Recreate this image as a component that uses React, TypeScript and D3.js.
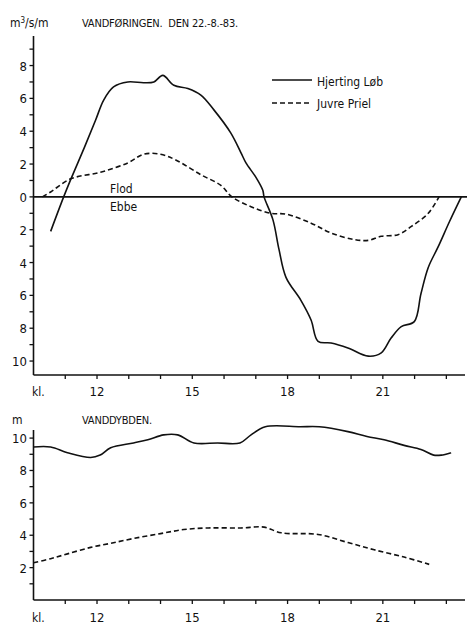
import React from "react";
import * as d3 from "d3";

// ---- Data ----
// Top chart: discharge (m3/s/m), hours (kl.)
const hjertingFlowHours = [10.54, 10.95, 11.17, 11.6, 11.96, 12.21, 12.52, 12.97, 13.47, 13.79, 14.07, 14.42, 14.86, 15.27, 15.68, 16.21, 16.53, 16.69, 17.0, 17.22, 17.26, 17.54, 17.73, 17.95, 18.42, 18.74, 18.96, 19.37, 19.9, 20.54, 20.95, 21.26, 21.58, 21.99, 22.2, 22.43, 22.74, 23.1, 23.47];
const hjertingFlowValues = [-2.1, 0, 1.05, 3.0, 4.7, 5.9, 6.7, 7.0, 6.95, 7.0, 7.4, 6.8, 6.6, 6.2, 5.3, 3.9, 2.7, 2.07, 1.2, 0.4, 0, -1.4, -3.2, -4.9, -6.3, -7.5, -8.8, -8.9, -9.2, -9.7, -9.5, -8.6, -7.9, -7.6, -5.9, -4.3, -3.05, -1.5, 0];
const juvreFlowHours = [10.28, 10.54, 11.17, 12.11, 12.97, 13.47, 14.0, 14.48, 15.27, 15.9, 16.25, 16.85, 17.48, 17.95, 18.74, 19.37, 20.1, 20.54, 20.95, 21.48, 21.9, 22.43, 22.77];
const juvreFlowValues = [0, 0.3, 1.1, 1.5, 2.07, 2.6, 2.6, 2.25, 1.35, 0.7, 0, -0.6, -1.0, -1.05, -1.6, -2.2, -2.6, -2.65, -2.4, -2.3, -1.8, -1.0, 0];

// Bottom chart: water depth (m)
const hjertingDepthHours = [10.0, 10.54, 11.07, 11.8, 12.1, 12.43, 13.15, 13.6, 14.1, 14.54, 15.05, 15.8, 16.5, 16.85, 17.3, 18.4, 19.0, 19.9, 20.5, 21.04, 21.67, 22.2, 22.6, 22.84, 23.15];
const hjertingDepthValues = [9.45, 9.45, 9.1, 8.8, 8.95, 9.4, 9.7, 9.9, 10.2, 10.2, 9.7, 9.7, 9.7, 10.2, 10.7, 10.7, 10.7, 10.4, 10.1, 9.9, 9.55, 9.3, 8.95, 8.95, 9.1];
const juvreDepthHours = [10.0, 10.54, 11.07, 11.8, 12.43, 13.15, 14.0, 14.73, 15.5, 16.53, 17.26, 17.8, 18.96, 19.9, 20.73, 21.67, 22.46];
const juvreDepthValues = [2.3, 2.55, 2.85, 3.25, 3.5, 3.8, 4.1, 4.35, 4.45, 4.45, 4.5, 4.15, 4.05, 3.55, 3.1, 2.65, 2.2];

const hourTicks = [11, 12, 13, 14, 15, 16, 17, 18, 19, 20, 21, 22, 23];
const hourLabels = [12, 15, 18, 21];
const flowTicks = [-10, -9, -8, -7, -6, -5, -4, -3, -2, -1, 0, 1, 2, 3, 4, 5, 6, 7, 8, 9];
const flowLabels = [-10, -8, -6, -4, -2, 0, 2, 4, 6, 8];
const depthTicks = [1, 2, 3, 4, 5, 6, 7, 8, 9, 10];
const depthLabels = [2, 4, 6, 8, 10];

const seriesNames = ["Hjerting Løb", "Juvre Priel"];

const FONT = "'DejaVu Sans Condensed', 'Liberation Sans Narrow', 'Liberation Sans', sans-serif";
const INK = "#111";

export default function App() {
  const x = d3.scaleLinear().domain([10, 23.65]).range([33.5, 467]);
  const yTop = d3.scaleLinear().domain([-10.85, 9.8]).range([375, 36]);
  const yBot = d3.scaleLinear().domain([0, 10.5]).range([600, 430]);

  const mk = (ys: d3.ScaleLinear<number, number>) =>
    d3
      .line<[number, number]>()
      .x((d) => x(d[0]))
      .y((d) => ys(d[1]))
      .curve(d3.curveCatmullRom.alpha(0.5));

  const zip = (a: number[], b: number[]) => a.map((v, i) => [v, b[i]] as [number, number]);

  const lineTop = mk(yTop);
  const lineBot = mk(yBot);
  const dash = "5,3";

  const xAxis = (y0: number, labelY: number) => (
    <g>
      <line x1={x(10)} x2={465} y1={y0} y2={y0} stroke={INK} strokeWidth={1.6} />
      {hourTicks.map((h) => (
        <line key={h} x1={x(h)} x2={x(h)} y1={y0} y2={y0 + 4} stroke={INK} strokeWidth={1.3} />
      ))}
      {hourLabels.map((h) => (
        <text key={h} x={x(h)} y={labelY} textAnchor="middle" fontSize={13} fontFamily={FONT} fill={INK}>
          {h}
        </text>
      ))}
      <text x={32} y={labelY} fontSize={12} fontFamily={FONT} fill={INK}>
        kl.
      </text>
    </g>
  );

  return (
    <svg width={467} height={626} style={{ position: "absolute", left: 0, top: 0, background: "#fff" }}>
      <rect x={0} y={0} width={467} height={626} fill="#fff" />
      {/* Top chart titles */}
      <text x={10} y={27} fontSize={12} fontFamily={FONT} fill={INK}>
        m<tspan dy={-4} fontSize={8}>3</tspan>
        <tspan dy={4}>/s/m</tspan>
      </text>
      <text x={82} y={27} fontSize={11} fontFamily={FONT} fill={INK} letterSpacing={-0.2} style={{ whiteSpace: "pre" }}>
        {"VANDFØRINGEN.  DEN 22.-8.-83."}
      </text>

      {/* Top y axis */}
      <line x1={x(10)} x2={x(10)} y1={yTop(9.8)} y2={375} stroke={INK} strokeWidth={1.6} />
      {flowTicks.map((t) => (
        <line key={t} x1={x(10) - 4} x2={x(10)} y1={yTop(t)} y2={yTop(t)} stroke={INK} strokeWidth={1.3} />
      ))}
      {flowLabels.map((t) => (
        <text key={t} x={27} y={yTop(t) + 5} textAnchor="end" fontSize={13} fontFamily={FONT} fill={INK}>
          {Math.abs(t)}
        </text>
      ))}
      {/* zero line */}
      <line x1={x(10)} x2={467} y1={yTop(0)} y2={yTop(0)} stroke={INK} strokeWidth={1.8} />
      <text x={110} y={193} fontSize={12} fontFamily={FONT} fill={INK}>
        Flod
      </text>
      <text x={110} y={211} fontSize={12} fontFamily={FONT} fill={INK}>
        Ebbe
      </text>
      {xAxis(375, 396)}

      {/* Top series */}
      <path d={lineTop(zip(hjertingFlowHours, hjertingFlowValues)) || ""} fill="none" stroke={INK} strokeWidth={1.6} />
      <path d={lineTop(zip(juvreFlowHours, juvreFlowValues)) || ""} fill="none" stroke={INK} strokeWidth={1.6} strokeDasharray={dash} />

      {/* Legend */}
      <line x1={272} x2={312} y1={80} y2={80} stroke={INK} strokeWidth={1.6} />
      <text x={317} y={86} fontSize={12} fontFamily={FONT} fill={INK}>
        {seriesNames[0]}
      </text>
      <line x1={272} x2={312} y1={103} y2={103} stroke={INK} strokeWidth={1.6} strokeDasharray={dash} />
      <text x={317} y={108} fontSize={12} fontFamily={FONT} fill={INK}>
        {seriesNames[1]}
      </text>

      {/* Bottom chart */}
      <text x={12} y={424} fontSize={12} fontFamily={FONT} fill={INK}>
        m
      </text>
      <text x={82} y={424} fontSize={11} fontFamily={FONT} fill={INK} letterSpacing={-0.2}>
        VANDDYBDEN.
      </text>
      <line x1={x(10)} x2={x(10)} y1={yBot(10.5)} y2={600} stroke={INK} strokeWidth={1.6} />
      {depthTicks.map((t) => (
        <line key={t} x1={x(10) - 4} x2={x(10)} y1={yBot(t)} y2={yBot(t)} stroke={INK} strokeWidth={1.3} />
      ))}
      {depthLabels.map((t) => (
        <text key={t} x={27} y={yBot(t) + 5} textAnchor="end" fontSize={13} fontFamily={FONT} fill={INK}>
          {t}
        </text>
      ))}
      {xAxis(600, 622)}
      <path d={lineBot(zip(hjertingDepthHours, hjertingDepthValues)) || ""} fill="none" stroke={INK} strokeWidth={1.6} />
      <path d={lineBot(zip(juvreDepthHours, juvreDepthValues)) || ""} fill="none" stroke={INK} strokeWidth={1.6} strokeDasharray={dash} />
    </svg>
  );
}
